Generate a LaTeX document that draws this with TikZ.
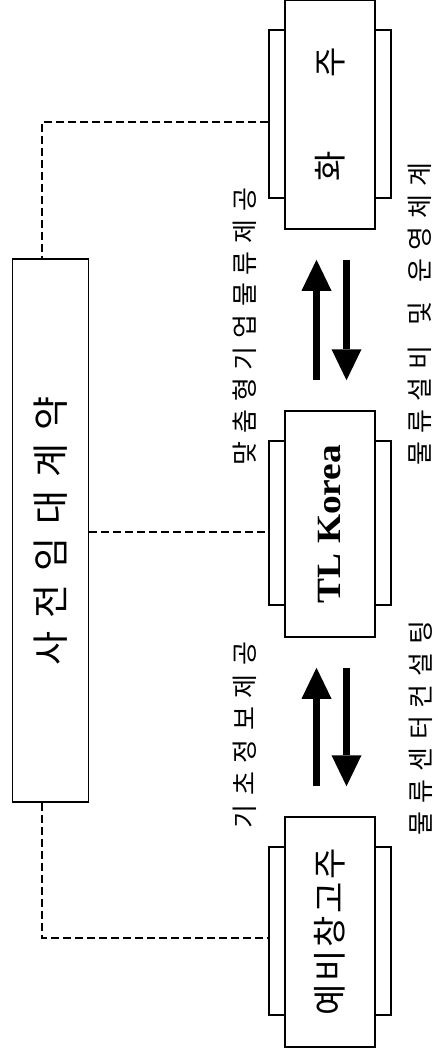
\documentclass[tikz,border=0pt]{standalone}
\usepackage{fontspec}
\setmainfont{Liberation Serif}
\newfontfamily\kr{Noto Sans CJK KR}
\usetikzlibrary{arrows.meta,calc}
\tikzset{
  ibox/.style={draw, line width=1.5pt, fill=white, rotate=90, inner sep=0pt, align=center},
  tabbox/.style={draw, line width=1.5pt, inner sep=0pt, minimum width=122pt},
  dsh/.style={line width=1.3pt, dash pattern=on 8pt off 4pt},
  bigarr/.style={line width=7.5pt, -{Triangle[width=30pt,length=31pt,line width=0pt]}, shorten <=30pt, shorten >=30pt},
  lab/.style={rotate=90, inner sep=0pt, font=\kr\fontsize{26}{26}\selectfont\addfontfeature{LetterSpace=30}},
}
\begin{document}
\begin{tikzpicture}[x=1pt,y=-1pt]
\useasboundingbox (0,0) rectangle (438,1056);
% side tabs
\node[tabbox, minimum height=168pt] (hwatab) at (330,114) {};
\node[tabbox, minimum height=164pt] (kortab) at (330,523) {};
\node[tabbox, minimum height=168pt] (bottab) at (330,931) {};
% main boxes
\node[ibox, minimum width=229pt, minimum height=90pt, font=\kr\fontsize{33}{33}\selectfont] (hwa) at (330,114.5) {화\hspace{74pt}주};
\node[ibox, minimum width=226pt, minimum height=90pt, font=\bfseries\fontsize{34}{34}\selectfont] (korea) at (330,524) {\scalebox{1.1}[1]{TL Korea}};
\node[ibox, minimum width=230pt, minimum height=90pt, font=\kr\fontsize{34}{34}\selectfont\addfontfeature{LetterSpace=8}] (bot) at (330,932) {예비창고주};
\node[ibox, minimum width=543pt, minimum height=76pt, font=\kr\fontsize{37}{37}\selectfont\addfontfeature{LetterSpace=35}] (big) at (50.5,530.5) {\spaceskip=13pt\relax 사전 임대 계약};
% labels
\node[lab] (l1) at (245,326.5) {맞춤형기업물류제공};
\node[lab] (l2) at (420,314) {\spaceskip=20pt\relax 물류설비 및 운영체계};
\node[lab, font=\kr\fontsize{26}{26}\selectfont\addfontfeature{LetterSpace=33}] (l3) at (245,735) {기초정보제공};
\node[lab] (l4) at (421,728) {물류센터컨설팅};
% arrows
\draw[bigarr] ($(korea.east)+(-13.5,0)$) -- ($(hwa.west)+(-13.5,0)$);
\draw[bigarr] ($(hwa.west)+(16.5,0)$) -- ($(korea.east)+(16.5,0)$);
\draw[bigarr] ($(bot.east)+(-13.5,0)$) -- ($(korea.west)+(-13.5,0)$);
\draw[bigarr] ($(korea.west)+(16.5,0)$) -- ($(bot.east)+(16.5,0)$);
% dashed connectors
\draw[dsh] ([yshift=-8pt]hwatab.west) -| ([xshift=-8.5pt]big.east);
\coordinate (m) at ([yshift=-1.5pt]big.south);
\draw[dsh] (m) -- (m -| kortab.west);
\draw[dsh] ([xshift=-8.5pt]big.west) |- ([yshift=-7pt]bottab.west);
\end{tikzpicture}
\end{document}
